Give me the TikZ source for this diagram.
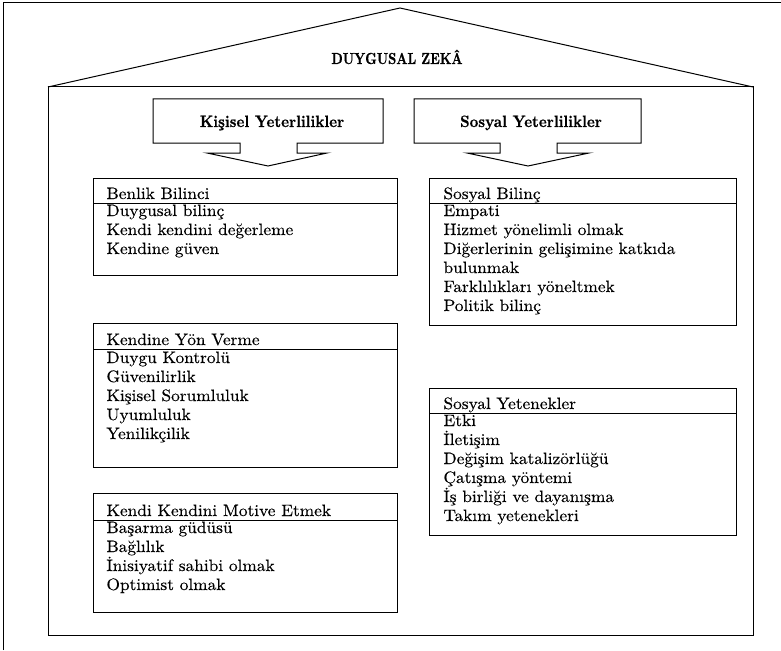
\documentclass[tikz,border=0pt]{standalone}
\usepackage{fontspec}
\usepackage{graphicx}
\setmainfont{lmroman10-regular.otf}[BoldFont=lmroman10-bold.otf, BoldFeatures={FakeBold=0.6}]
\newfontfamily\bodyfont{lmroman10-regular.otf}[FakeStretch=1.05, FakeBold=0.35]
\newcommand\tallbox[2]{\scalebox{1}[#1]{#2}}
\begin{document}
\begin{tikzpicture}[x=1pt,y=-1pt,line width=1pt,line join=miter]
\tikzset{
  body/.style={font=\bodyfont\fontsize{16.5}{19}\selectfont, inner sep=0pt, anchor=base west},
  hdr/.style={font=\normalfont\bfseries\fontsize{15}{18}\selectfont, inner sep=0pt, anchor=base},
  ttl/.style={font=\normalfont\bfseries\fontsize{12.8}{16}\selectfont, inner sep=0pt, anchor=base},
}
\useasboundingbox (0,0) rectangle (781,650);
% outer frame (cropped)
\draw (3,650) -- (3,3) -- (781,3);
% house
\draw (48,87) -- (400,8) -- (753,87);
\draw (48,87) rectangle (753,635);
\node[ttl] (title) at (397,64) {\tallbox{1.25}{DUYGUSAL ZEKÂ}};
% callouts
\draw (153,99) -- (383,99) -- (383,143) -- (297,143) -- (297,153) -- (327,153) -- (268,166) -- (207,153) -- (240,153) -- (240,143) -- (153,143) -- cycle;
\node[hdr] (kisisel) at (272,127) {\tallbox{1.1}{Kişisel Yeterlilikler}};
\draw (414,99) -- (641,99) -- (641,143) -- (557,143) -- (557,153) -- (589,153) -- (528,166) -- (467,153) -- (500,153) -- (500,143) -- (414,143) -- cycle;
\node[hdr] (sosyal) at (531,127) {\tallbox{1.1}{Sosyal Yeterlilikler}};
% Benlik Bilinci
\draw (93,178) rectangle (397,275); \draw (93,203) -- (397,203);
\node[body] (bh) at (106,199) {Benlik Bilinci};
\foreach \t [count=\i] in {Duygusal bilinç, Kendi kendini değerleme, Kendine güven}
  \node[body] (b\i) at (106,{216+19*(\i-1)}) {\t};
% Kendine Yon Verme
\draw (93,323) rectangle (397,467); \draw (93,349) -- (397,349);
\node[body] (kh) at (106,345) {Kendine Yön Verme};
\foreach \t [count=\i] in {Duygu Kontrolü, Güvenilirlik, Kişisel Sorumluluk, Uyumluluk, Yenilikçilik}
  \node[body] (k\i) at (106,{363+19*(\i-1)}) {\t};
% Kendi Kendini Motive Etmek
\draw (93,493) rectangle (397,612); \draw (93,520) -- (397,520);
\node[body] (mh) at (106,516) {Kendi Kendini Motive Etmek};
\foreach \t [count=\i] in {Başarma güdüsü, Bağlılık, İnisiyatif sahibi olmak, Optimist olmak}
  \node[body] (m\i) at (106,{533+19*(\i-1)}) {\t};
% Sosyal Bilinc
\draw (429,178) rectangle (736,325); \draw (429,203) -- (736,203);
\node[body] (sh) at (443,199) {Sosyal Bilinç};
\foreach \t [count=\i] in {Empati, Hizmet yönelimli olmak, Diğerlerinin gelişimine katkıda, bulunmak, Farklılıkları yöneltmek, Politik bilinç}
  \node[body] (s\i) at (443,{216+19*(\i-1)}) {\t};
% Sosyal Yetenekler
\draw (429,388) rectangle (736,535); \draw (429,413) -- (736,413);
\node[body] (yh) at (443,409) {Sosyal Yetenekler};
\foreach \t [count=\i] in {Etki, İletişim, Değişim katalizörlüğü, Çatışma yöntemi, İş birliği ve dayanışma, Takım yetenekleri}
  \node[body] (y\i) at (443,{426+19*(\i-1)}) {\t};
\end{tikzpicture}
\end{document}
